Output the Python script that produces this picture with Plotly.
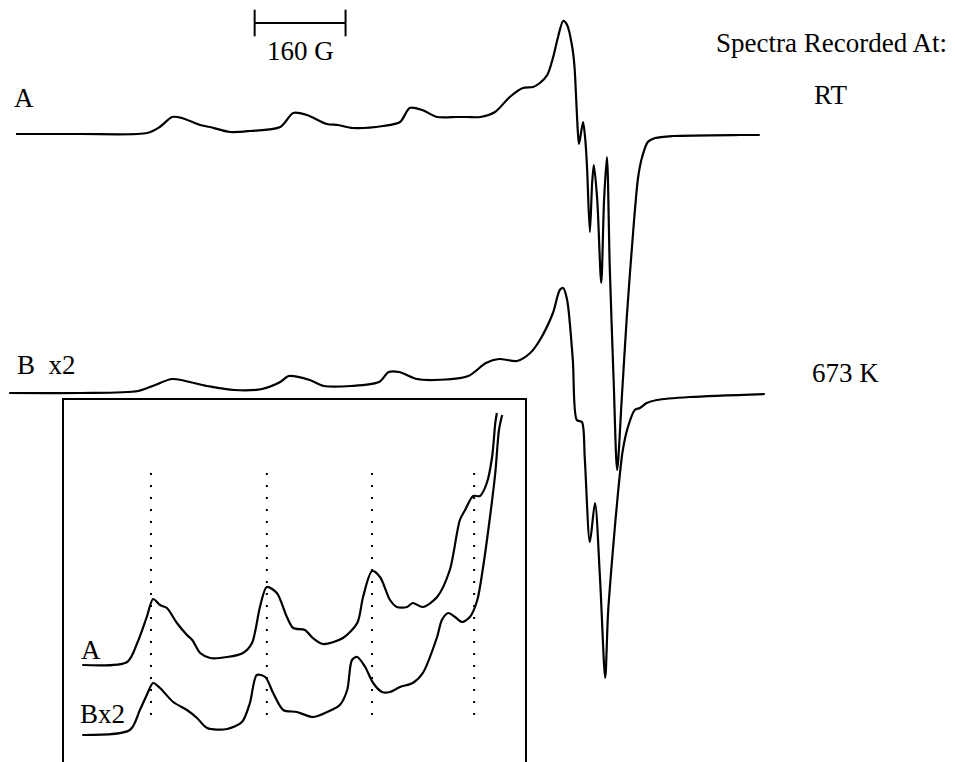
import plotly.graph_objects as go

# ---- Full EPR spectra (field offset in G, derivative signal in a.u.) ----
# Spectrum A: recorded at room temperature
field_A = [0, 113, 231, 253, 275, 292, 324, 341, 377, 412, 465, 488, 512, 547,
           567, 593, 646, 676, 693, 715, 741, 776, 794, 817, 843, 869, 892, 910,
           922, 935, 945, 954, 963, 970, 979, 983, 986, 989, 991, 998, 1002, 1005,
           1010, 1014, 1017, 1023, 1030, 1035, 1040, 1045, 1052, 1058, 1066, 1075,
           1086, 1095, 1102, 1112, 1125, 1156, 1274, 1309]
signal_A = [0, 0, 1, 7, 17, 16, 9, 7, 2, 3, 7, 21, 19, 10,
            9, 6, 8, 12, 26, 24, 17, 17, 17, 17, 22, 37, 46, 47,
            51, 59, 76, 97, 113, 109, 87, 67, 34, 1, -10, 12, -6, -33,
            -98, -49, -31, -66, -149, -66, -23, -133, -249, -336, -266, -183,
            -99, -43, -23, -8, -4, -2, -1, -1]

# Spectrum B (x2): recorded at 673 K
field_B = [-12, 113, 215, 245, 275, 336, 384, 433, 465, 480, 517, 542, 590, 639,
           656, 674, 706, 736, 796, 827, 850, 882, 905, 921, 945, 957, 963, 970,
           980, 987, 996, 1001, 1010, 1019, 1028, 1037, 1042, 1051, 1060, 1068,
           1077, 1089, 1098, 1110, 1128, 1186, 1318]
signal_B = [0, 0, 2, 8, 14, 7, 3, 4, 11, 17, 13, 7, 7, 11,
            21, 21, 14, 13, 17, 30, 34, 32, 40, 52, 80, 103, 105, 93,
            33, -27, -29, -65, -149, -110, -187, -285, -220, -154, -97, -57,
            -34, -17, -15, -10, -7, -4, -1]

# ---- Expanded low-field (parallel) region ----
inset_field_A = [145, 230, 249, 267, 279, 292, 305, 324, 343, 353, 368, 387, 419,
                 449, 466, 481, 494, 513, 532, 544, 566, 581, 600, 638, 665, 676,
                 693, 708, 727, 740, 759, 770, 789, 816, 840, 859, 869, 884, 897,
                 910, 920, 926, 929]
inset_signal_A = [0, 3, 22, 48, 66, 60, 57, 42, 30, 25, 12, 7, 8,
                  12, 22, 58, 78, 72, 48, 37, 35, 27, 21, 27, 42, 68,
                  94, 88, 65, 58, 58, 62, 58, 68, 95, 145, 155, 169, 169,
                  182, 208, 242, 252]

inset_field_B = [145, 235, 254, 267, 279, 292, 317, 343, 362, 381, 419, 447, 462,
                 475, 491, 506, 525, 551, 581, 608, 632, 646, 655, 665, 680, 695,
                 712, 727, 746, 770, 789, 816, 825, 837, 850, 863, 878, 892, 903,
                 916, 926, 933, 939]
inset_signal_B = [0, 5, 25, 40, 52, 47, 33, 25, 17, 7, 6, 13, 32,
                  60, 58, 42, 25, 23, 18, 23, 30, 45, 75, 78, 68, 52,
                  43, 43, 48, 52, 62, 98, 115, 122, 118, 113, 118, 135, 168,
                  218, 262, 305, 320]

# hyperfine line positions marked in the expanded view (G)
hyperfine_lines = [275, 494, 693, 886]

SCALE_BAR_START = 420   # G
SCALE_BAR_LEN = 160     # G

# vertical stacking of the traces
OFFSET_A, OFFSET_B = 628, 369
INSET_OFFSET_A, INSET_OFFSET_B = 97, 27
MARKER_LOW, MARKER_HIGH = 47, 293
SCALE_BAR_LEVEL = 739

W, H = 955, 762
FONT = "'Liberation Serif', 'Times New Roman', Times, 'DejaVu Serif', serif"
LINE = dict(color="black", width=2.2, shape="spline", smoothing=0.8)

fig = go.Figure()

fig.add_trace(go.Scatter(x=field_A, y=[s + OFFSET_A for s in signal_A],
                         mode="lines", line=LINE, name="RT"))
fig.add_trace(go.Scatter(x=field_B, y=[s + OFFSET_B for s in signal_B],
                         mode="lines", line=LINE, name="673 K"))

# 160 G scale bar
fig.add_trace(go.Scatter(
    x=[SCALE_BAR_START, SCALE_BAR_START + SCALE_BAR_LEN],
    y=[SCALE_BAR_LEVEL, SCALE_BAR_LEVEL],
    mode="lines+markers",
    line=dict(color="black", width=2),
    marker=dict(symbol="line-ns", size=19, line=dict(color="black", width=2)),
))

# expanded view
fig.add_trace(go.Scatter(x=inset_field_A, y=[s + INSET_OFFSET_A for s in inset_signal_A],
                         mode="lines", line=LINE, xaxis="x2", yaxis="y2"))
fig.add_trace(go.Scatter(x=inset_field_B, y=[s + INSET_OFFSET_B for s in inset_signal_B],
                         mode="lines", line=LINE, xaxis="x2", yaxis="y2"))
for f in hyperfine_lines:
    fig.add_trace(go.Scatter(x=[f, f], y=[MARKER_LOW, MARKER_HIGH], mode="lines",
                             line=dict(color="black", width=2, dash="2px,10px"),
                             xaxis="x2", yaxis="y2"))

inset_x0, inset_x1, inset_top = 64, 525, 400


def px(x):
    return x / W


def py(y):
    return 1 - y / H


labels = [
    ("160 G", 300, 51),
    ("A", 24, 98),
    ("B  x2", 46, 365),
    ("Spectra Recorded At:", 831, 43),
    ("RT", 830, 95),
    ("673 K", 845, 373),
    ("A", 91, 650),
    ("Bx2", 102, 714),
]
annotations = [dict(text=t, x=px(x), y=py(y), xref="paper", yref="paper",
                    xanchor="center", yanchor="middle", showarrow=False,
                    font=dict(family=FONT, size=27, color="black"))
               for t, x, y in labels]

hidden = dict(visible=False, showgrid=False, zeroline=False)
fig.update_layout(
    width=W, height=H, autosize=False,
    font=dict(family=FONT, color="black"),
    margin=dict(l=0, r=0, t=0, b=0, pad=0),
    paper_bgcolor="white", plot_bgcolor="white",
    showlegend=False,
    xaxis=dict(domain=[0, 1], range=[-16 * 1.76, (W - 16) * 1.76], **hidden),
    yaxis=dict(domain=[0, 1], range=[0, H], **hidden),
    xaxis2=dict(domain=[px(inset_x0), px(inset_x1)], range=[110.5, 982.2],
                anchor="y2", side="top", showline=True, linecolor="black",
                linewidth=2, showticklabels=False, ticks="", showgrid=False,
                zeroline=False),
    yaxis2=dict(domain=[0, py(inset_top)], range=[0, H - inset_top],
                anchor="x2", showline=True, mirror=True, linecolor="black",
                linewidth=2, showticklabels=False, ticks="", showgrid=False,
                zeroline=False),
    annotations=annotations,
)

fig.write_html("out.html")
